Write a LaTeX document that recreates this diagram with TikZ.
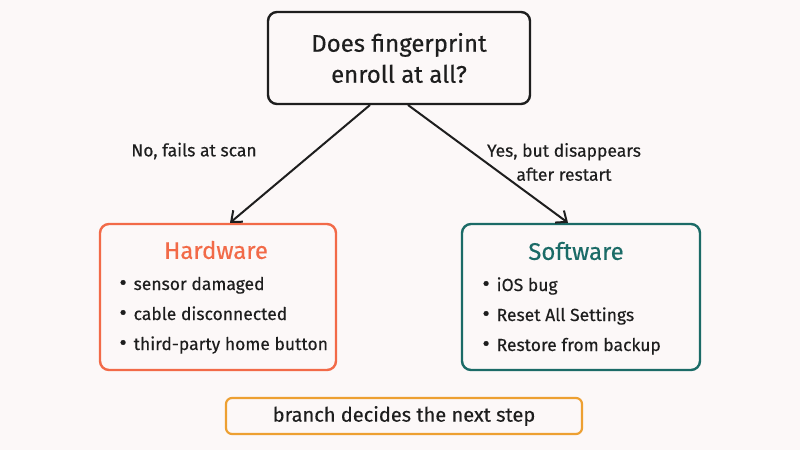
\documentclass[tikz,border=0pt]{standalone}
\usepackage{fontspec}
\setmainfont{Fira Sans}[FakeBold=0.35]
\usetikzlibrary{arrows.meta}
\definecolor{bg}{HTML}{FCF8F8}
\definecolor{hw}{HTML}{F26A48}
\definecolor{sw}{HTML}{1B6B67}
\definecolor{nt}{HTML}{EDA032}
\definecolor{ink}{HTML}{1E1E1E}
\newcommand{\bul}{{\fontsize{22}{18}\selectfont\textbullet}\hspace{7pt}}
\tikzset{
  x=1pt,y=-1pt,
  box/.style={draw, line width=2.4pt, rounded corners=9pt, inner sep=0pt},
  conn/.style={draw=ink, line width=2pt, -{Straight Barb[length=9pt,width=15pt,line width=2pt]}},
  lbl/.style={text=ink, font=\fontsize{17.5}{24}\selectfont, align=center},
  item/.style={text=ink, font=\fontsize{17.5}{18}\selectfont, anchor=base west},
  ttl/.style={font=\fontsize{24}{26}\selectfont},
}
\begin{document}
\begin{tikzpicture}
\useasboundingbox[fill=bg] (0,0) rectangle (800,450);
% top question
\node[box, draw=ink, minimum width=262pt, minimum height=92pt, text=ink,
      font=\fontsize{24}{31}\selectfont, align=center] (q) at (399,58)
      {Does fingerprint\\enroll at all?};
% hardware
\node[box, draw=hw, minimum width=236pt, minimum height=146pt] (hw) at (218,297) {};
\node[ttl, text=hw] (hwt) at (216,250) {Hardware};
\node[item] (h1) at (116,290) {\bul sensor damaged};
\node[item] (h2) at (116,320) {\bul cable disconnected};
\node[item] (h3) at (116,350) {\bul third-party home button};
% software
\node[box, draw=sw, minimum width=238pt, minimum height=146pt] (sw) at (581,297) {};
\node[ttl, text=sw] (swt) at (576,251) {Software};
\node[item] (s1) at (479,291) {\bul iOS bug};
\node[item] (s2) at (479,321) {\bul Reset All Settings};
\node[item] (s3) at (479,351) {\bul Restore from backup};
% note
\node[box, draw=nt, line width=2.2pt, rounded corners=6pt, minimum width=356pt, minimum height=36pt,
      text=ink, font=\fontsize{20}{22}\selectfont] (note) at (404,416) {branch decides the next step};
% connectors
\coordinate (qa) at (370,105);
\coordinate (qb) at (408,105);
\draw[conn] (qa) -- (hw.north -| 230,0);
\draw[conn] (qb) -- (sw.north -| 568,0);
\node[lbl] (l1) at (194,151) {No, fails at scan};
\node[lbl] (l2) at (564,162) {Yes, but disappears\\after restart};
\end{tikzpicture}
\end{document}
